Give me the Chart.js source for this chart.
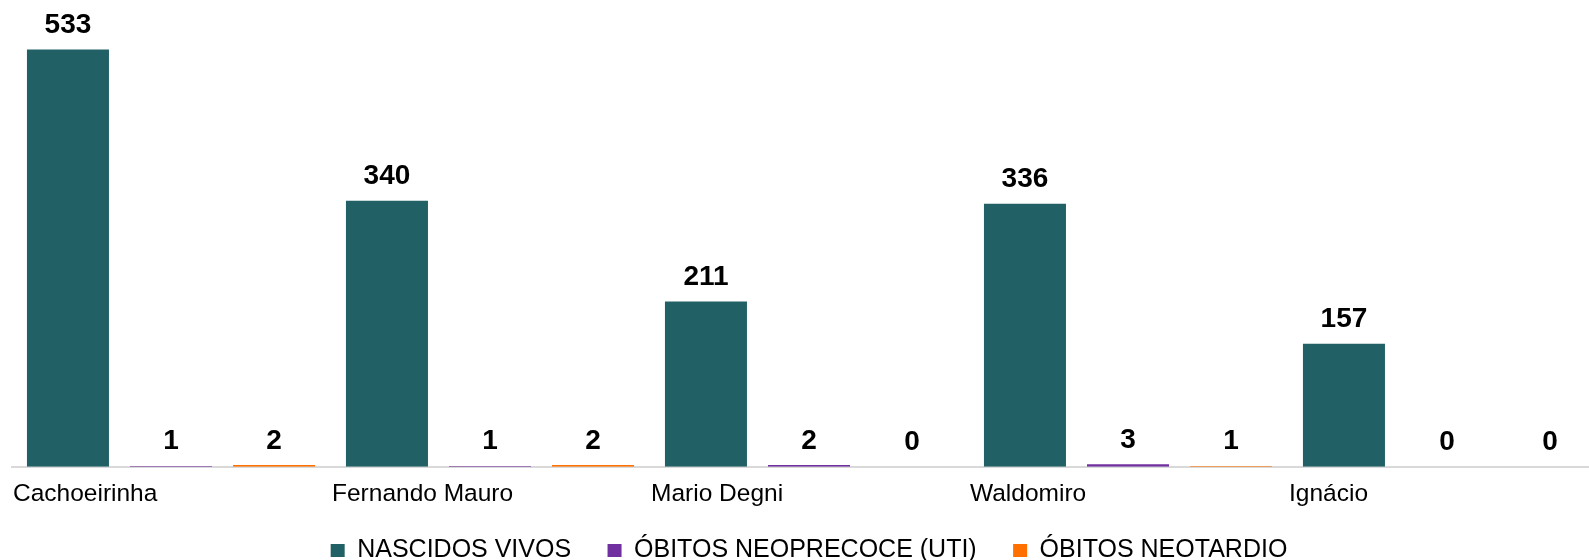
<!DOCTYPE html>
<html lang="pt-BR">
<head>
<meta charset="utf-8">
<title>Nascidos vivos e óbitos neonatais por hospital</title>
<script src="https://cdn.jsdelivr.net/npm/chart.js@4/dist/chart.umd.min.js"></script>
<style>
  html, body { margin: 0; padding: 0; background: #fff; }
  #frame { width: 1589px; height: 560px; overflow: hidden; position: relative; }
  #wrap { width: 1637px; height: 560px; position: absolute; left: 0; top: 0; }
</style>
</head>
<body>
<div id="frame">
  <div id="wrap"><canvas id="birthsChart"></canvas></div>
</div>
<script>
// ==== Data ====
const hospitals = ["Cachoeirinha", "Fernando Mauro", "Mario Degni", "Waldomiro", "Ignácio"];
const nascidosVivos = [533, 340, 211, 336, 157];
const obitosNeoprecoce = [1, 1, 2, 3, 0];
const obitosNeotardio = [2, 2, 0, 1, 0];

const FONT = '"Liberation Sans", Arial, sans-serif';

// ==== Value labels above each bar ====
const valueLabels = {
  id: "valueLabels",
  afterDatasetsDraw(chart) {
    const ctx = chart.ctx;
    ctx.save();
    ctx.font = "bold 28px " + FONT;
    ctx.fillStyle = "#000";
    ctx.textAlign = "center";
    ctx.textBaseline = "alphabetic";
    chart.data.datasets.forEach((ds, i) => {
      chart.getDatasetMeta(i).data.forEach((bar, j) => {
        ctx.fillText(String(ds.data[j]), bar.x, bar.y - 16.5);
      });
    });
    ctx.restore();
  }
};

// legend items get a little trailing room so they spread out horizontally
// without the legend growing taller
const defaultLegendLabels = Chart.defaults.plugins.legend.labels.generateLabels;
function spacedLegendLabels(chart) {
  const items = defaultLegendLabels(chart);
  items.forEach((item, i) => {
    if (i < items.length - 1) item.text += "   ";
  });
  return items;
}

// ==== Chart ====
const ctx = document.getElementById("birthsChart").getContext("2d");

new Chart(ctx, {
  type: "bar",
  data: {
    labels: hospitals,
    datasets: [
      { label: "NASCIDOS VIVOS", data: nascidosVivos, backgroundColor: "#216166" },
      { label: "ÓBITOS NEOPRECOCE (UTI)", data: obitosNeoprecoce, backgroundColor: "#7030a0" },
      { label: "ÓBITOS NEOTARDIO", data: obitosNeotardio, backgroundColor: "#ff7000" }
    ]
  },
  options: {
    responsive: true,
    maintainAspectRatio: false,
    animation: false,
    datasets: {
      bar: { categoryPercentage: 0.969, barPercentage: 0.796 }
    },
    layout: { padding: { left: 11.5, right: 30.5, top: 5, bottom: -13 } },
    plugins: {
      legend: {
        position: "bottom",
        labels: {
          boxWidth: 14,
          boxHeight: 13,
          padding: 15.6,
          color: "#000",
          font: { family: FONT, size: 25 },
          generateLabels: spacedLegendLabels
        }
      },
      tooltip: { enabled: false }
    },
    scales: {
      x: {
        grid: { display: false, drawTicks: false },
        border: { display: true, color: "#d9d9d9", width: 2 },
        ticks: {
          align: "start",
          autoSkip: false,
          maxRotation: 0,
          padding: 15,
          color: "#000",
          font: { family: FONT, size: 24.5, lineHeight: 1.05 },
          // labels start at the left edge of each hospital group
          labelOffset: (c) => -c.scale.width / (2 * hospitals.length) + 1.5
        }
      },
      y: {
        display: false,
        min: 0,
        max: 590
      }
    }
  },
  plugins: [valueLabels]
});
</script>
</body>
</html>
